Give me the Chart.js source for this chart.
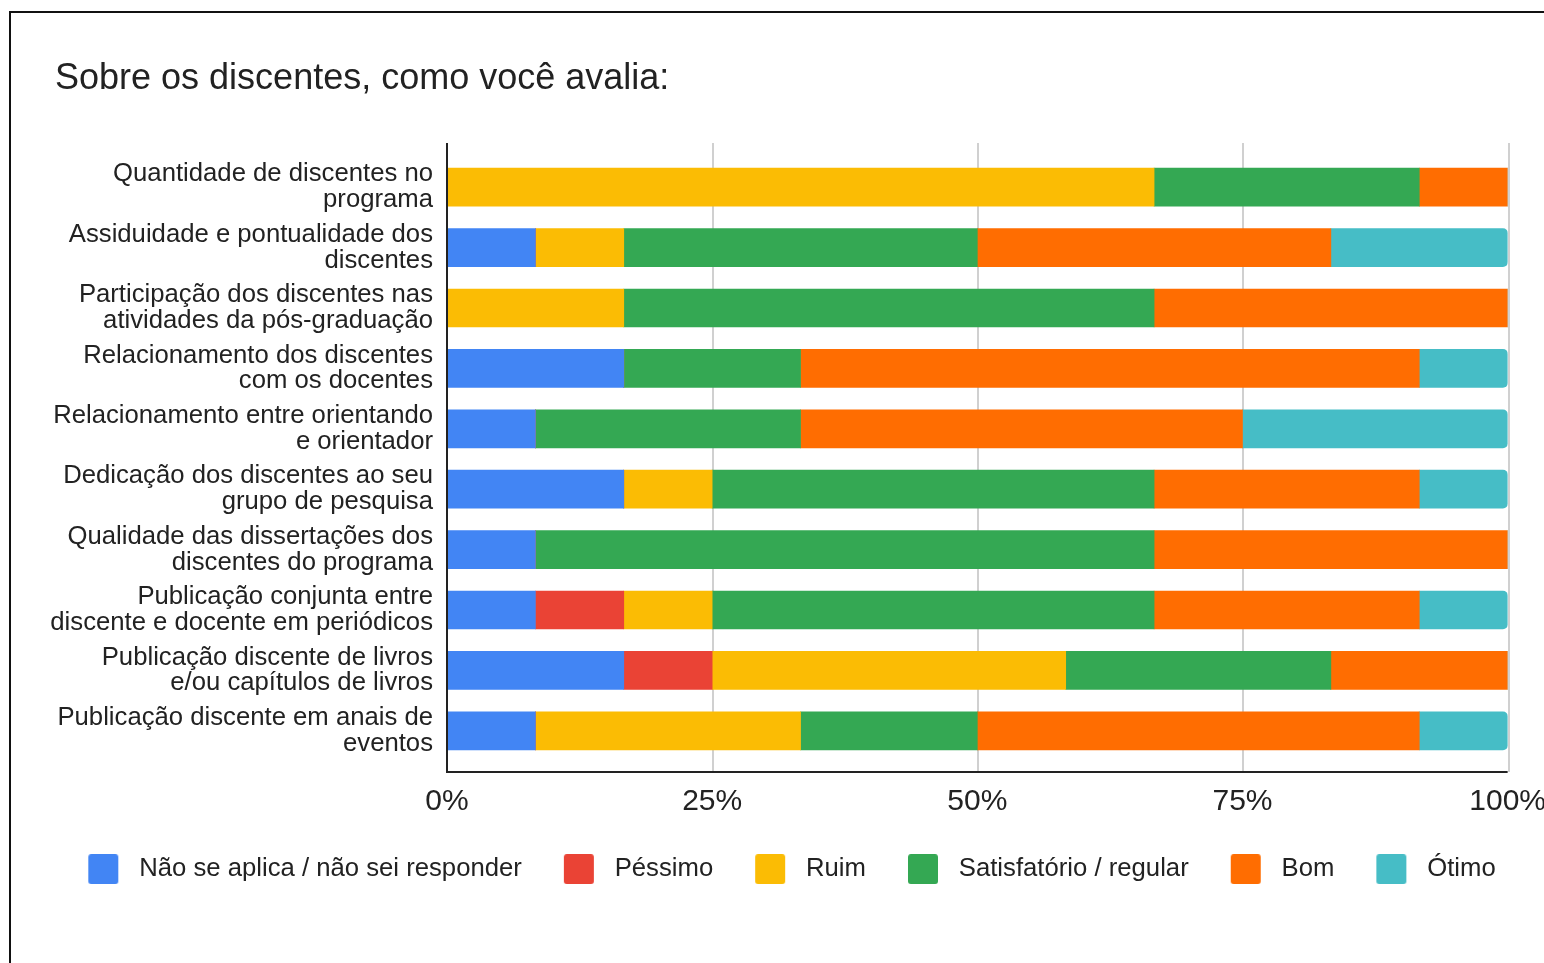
<!DOCTYPE html>
<html lang="pt-BR">
<head>
<meta charset="utf-8">
<title>Sobre os discentes, como você avalia:</title>
<script src="https://cdn.jsdelivr.net/npm/chart.js@4.4.1/dist/chart.umd.min.js"></script>
<style>
  html, body { margin: 0; padding: 0; background: #fff; overflow: hidden; }
  #grafico { display: block; }
</style>
</head>
<body>
<canvas id="grafico" width="1587" height="963"></canvas>
<script>
// Avaliação dos discentes: barras empilhadas a 100% (12 respostas por pergunta)

const TITULO = 'Sobre os discentes, como você avalia:';
const FONTE = "'Liberation Sans', Arial, sans-serif";
const COR_TEXTO = '#222222';

const perguntas = [
    ['Quantidade de discentes no', 'programa'],
    ['Assiduidade e pontualidade dos', 'discentes'],
    ['Participação dos discentes nas', 'atividades da pós-graduação'],
    ['Relacionamento dos discentes', 'com os docentes'],
    ['Relacionamento entre orientando', 'e orientador'],
    ['Dedicação dos discentes ao seu', 'grupo de pesquisa'],
    ['Qualidade das dissertações dos', 'discentes do programa'],
    ['Publicação conjunta entre', 'discente e docente em periódicos'],
    ['Publicação discente de livros', 'e/ou capítulos de livros'],
    ['Publicação discente em anais de', 'eventos']
];

const categorias = ['Não se aplica / não sei responder', 'Péssimo', 'Ruim', 'Satisfatório / regular', 'Bom', 'Ótimo'];
const cores = ['#4285F4', '#EA4335', '#FBBC04', '#34A853', '#FF6D01', '#46BDC6'];

// Contagem de respostas por pergunta
const naoSeAplica  = [0, 1, 0, 2, 1, 2, 1, 1, 2, 1];
const pessimo      = [0, 0, 0, 0, 0, 0, 0, 1, 1, 0];
const ruim         = [8, 1, 2, 0, 0, 1, 0, 1, 4, 3];
const satisfatorio = [3, 4, 6, 2, 3, 5, 7, 5, 3, 2];
const bom          = [1, 4, 4, 7, 5, 3, 4, 3, 2, 5];
const otimo        = [0, 2, 0, 1, 3, 1, 0, 1, 0, 1];

const ticksX = [0, 25, 50, 75, 100];

const series = [naoSeAplica, pessimo, ruim, satisfatorio, bom, otimo];
const totais = perguntas.map((_, i) => series.reduce((s, arr) => s + arr[i], 0));
const emPercentual = arr => arr.map((v, i) => v / totais[i] * 100);

// Marcador da legenda: quadradinho arredondado com folga transparente dos lados
// (folga à esquerda afasta do item anterior, à direita afasta do texto)
function amostra(cor) {
    const c = document.createElement('canvas');
    c.width = 67; c.height = 30;
    const g = c.getContext('2d');
    g.fillStyle = cor;
    g.beginPath();
    g.roundRect(29, 0, 30, 30, 3);
    g.fill();
    return c;
}
const amostras = cores.map(amostra);

// Moldura, título e eixos desenhados à mão (eixo passa um pouco das barras)
const decoracao = {
    id: 'decoracao',
    beforeDraw(chart) {
        const { ctx, width, height } = chart;
        ctx.save();
        ctx.strokeStyle = '#111';
        ctx.lineWidth = 2;
        ctx.beginPath();
        ctx.moveTo(10, height);
        ctx.lineTo(10, 12);
        ctx.lineTo(width, 12);
        ctx.stroke();

        ctx.fillStyle = COR_TEXTO;
        ctx.font = `36px ${FONTE}`;
        ctx.textBaseline = 'middle';
        ctx.fillText(TITULO, 55, 79);
        ctx.restore();
    },
    beforeDatasetsDraw(chart) {
        const { ctx, chartArea, scales } = chart;
        const topo = chartArea.top - 14;
        const base = chartArea.bottom + 11;
        ctx.save();
        ctx.strokeStyle = '#d0d0d0';
        ctx.lineWidth = 2;
        ticksX.slice(1).forEach(v => {
            const x = Math.round(scales.x.getPixelForValue(v)) + 1;
            ctx.beginPath();
            ctx.moveTo(x, topo);
            ctx.lineTo(x, base);
            ctx.stroke();
        });
        ctx.restore();
    },
    afterDatasetsDraw(chart) {
        const { ctx, chartArea, scales } = chart;
        const topo = chartArea.top - 14;
        const base = chartArea.bottom + 11;
        const x0 = scales.x.getPixelForValue(0);
        const x1 = scales.x.getPixelForValue(100);
        ctx.save();
        ctx.strokeStyle = '#222';
        ctx.lineWidth = 2;
        ctx.beginPath();
        ctx.moveTo(x0, topo);
        ctx.lineTo(x0, base);
        ctx.lineTo(x1, base);
        ctx.stroke();
        ctx.restore();
    }
};

const datasets = categorias.map((nome, i) => ({
    label: nome,
    data: emPercentual(series[i]),
    backgroundColor: cores[i],
    borderWidth: 0,
    borderRadius: nome === 'Ótimo' ? 5 : 0,
    borderSkipped: 'start',
    barThickness: 38
}));

new Chart(document.getElementById('grafico'), {
    type: 'bar',
    data: { labels: perguntas, datasets },
    plugins: [decoracao],
    options: {
        indexAxis: 'y',
        responsive: false,
        animation: false,
        devicePixelRatio: 1,
        layout: { padding: { top: 157, left: 0, right: 32, bottom: 71 } },
        plugins: {
            title: { display: false },
            legend: {
                position: 'bottom',
                labels: {
                    color: COR_TEXTO,
                    font: { family: FONTE, size: 25.7 },
                    usePointStyle: true,
                    pointStyleWidth: 67,
                    padding: 13,
                    generateLabels: chart => Chart.defaults.plugins.legend.labels.generateLabels(chart)
                        .map(item => ({ ...item, pointStyle: amostras[item.datasetIndex] }))
                }
            }
        },
        scales: {
            x: {
                stacked: true,
                min: 0,
                max: 100,
                grid: { display: false, drawTicks: false },
                border: { display: false },
                ticks: {
                    stepSize: 25,
                    color: COR_TEXTO,
                    font: { family: FONTE, size: 30, lineHeight: 0.01 },
                    padding: 41,
                    callback: v => v + '%'
                }
            },
            y: {
                stacked: true,
                grid: { display: false, drawTicks: false },
                border: { display: false },
                ticks: {
                    color: COR_TEXTO,
                    font: { family: FONTE, size: 25.7, lineHeight: 1.0 },
                    padding: 14
                },
                afterFit: scale => { scale.width = 447; }
            }
        }
    }
});
</script>
</body>
</html>
